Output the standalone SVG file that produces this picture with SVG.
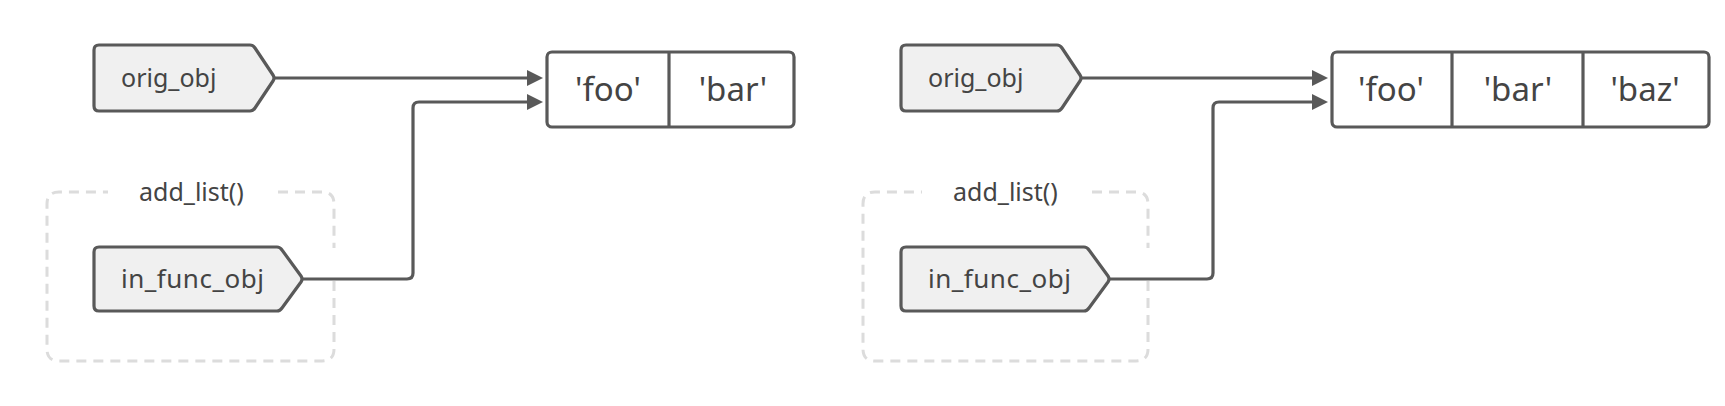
<svg xmlns="http://www.w3.org/2000/svg" width="1725" height="406" viewBox="0 0 1725 406">
<defs>
<style>
.node{fill:#f0f0f0;stroke:#595959;stroke-width:3.2;stroke-linejoin:round}
.arr{fill:#fff;stroke:#595959;stroke-width:3.2}
.div{stroke:#595959;stroke-width:3.2}
.edge{fill:none;stroke:#595959;stroke-width:3.2}
.frame{fill:none;stroke:#dcdcdc;stroke-width:3;stroke-dasharray:10 7}
.lbl{font-family:"Noto Sans","DejaVu Sans",sans-serif;font-size:25px;fill:#444}
.lbl2{font-family:"Noto Sans","DejaVu Sans",sans-serif;font-size:26px;fill:#444;letter-spacing:0.5px}
.cell{font-family:"Noto Sans","DejaVu Sans",sans-serif;font-size:33px;fill:#444;text-anchor:middle}
</style>
<marker id="ah" markerUnits="userSpaceOnUse" markerWidth="16" markerHeight="16" refX="3" refY="8" orient="auto">
<path d="M0,0 L16,8 L0,16 Z" fill="#595959"/>
</marker>
<path id="tagA" d="M5,0 H156 Q159,0 161,3 L179,30 Q181,33 179,36 L161,63 Q159,66 156,66 H5 Q0,66 0,61 V5 Q0,0 5,0 Z"/>
<path id="tagB" d="M5,0 H183 Q186,0 188,3 L207,29 Q209,32 207,35 L188,61 Q186,64 183,64 H5 Q0,64 0,59 V5 Q0,0 5,0 Z"/>
</defs>

<g id="func-left">
<path class="frame" d="M278,192 H322 Q334,192 334,204 V248 M334,281 V349 Q334,361 322,361 H59 Q47,361 47,349 V204 Q47,192 59,192 H108"/>
<text class="lbl" x="139" y="201">add_list()</text>
</g>
<g id="func-right">
<path class="frame" d="M1092,192 H1136 Q1148,192 1148,204 V248 M1148,281 V349 Q1148,361 1136,361 H875 Q863,361 863,349 V204 Q863,192 875,192 H922"/>
<text class="lbl" x="953" y="201">add_list()</text>
</g>

<g id="connectors">
<path class="edge" d="M275,78 H530" marker-end="url(#ah)"/>
<path class="edge" d="M303,279 H407 Q413,279 413,273 V108 Q413,102 419,102 H530" marker-end="url(#ah)"/>
<path class="edge" d="M1082,78 H1315" marker-end="url(#ah)"/>
<path class="edge" d="M1110,279 H1207 Q1213,279 1213,273 V108 Q1213,102 1219,102 H1315" marker-end="url(#ah)"/>
</g>

<g id="orig-left">
<use href="#tagA" class="node" x="94" y="45"/>
<text class="lbl" x="121" y="87">orig_obj</text>
</g>
<g id="infunc-left">
<use href="#tagB" class="node" x="94" y="247"/>
<text class="lbl2" x="121" y="288">in_func_obj</text>
</g>
<g id="list-left">
<rect class="arr" x="547" y="52" width="247" height="75" rx="5"/>
<line class="div" x1="669" y1="52" x2="669" y2="127"/>
<text class="cell" x="608" y="101">'foo'</text>
<text class="cell" x="733" y="101">'bar'</text>
</g>

<g id="orig-right">
<use href="#tagA" class="node" x="901" y="45"/>
<text class="lbl" x="928" y="87">orig_obj</text>
</g>
<g id="infunc-right">
<use href="#tagB" class="node" x="901" y="247"/>
<text class="lbl2" x="928" y="288">in_func_obj</text>
</g>
<g id="list-right">
<rect class="arr" x="1332" y="52" width="377" height="75" rx="5"/>
<line class="div" x1="1452" y1="52" x2="1452" y2="127"/>
<line class="div" x1="1583" y1="52" x2="1583" y2="127"/>
<text class="cell" x="1391" y="101">'foo'</text>
<text class="cell" x="1518" y="101">'bar'</text>
<text class="cell" x="1645" y="101">'baz'</text>
</g>
</svg>
